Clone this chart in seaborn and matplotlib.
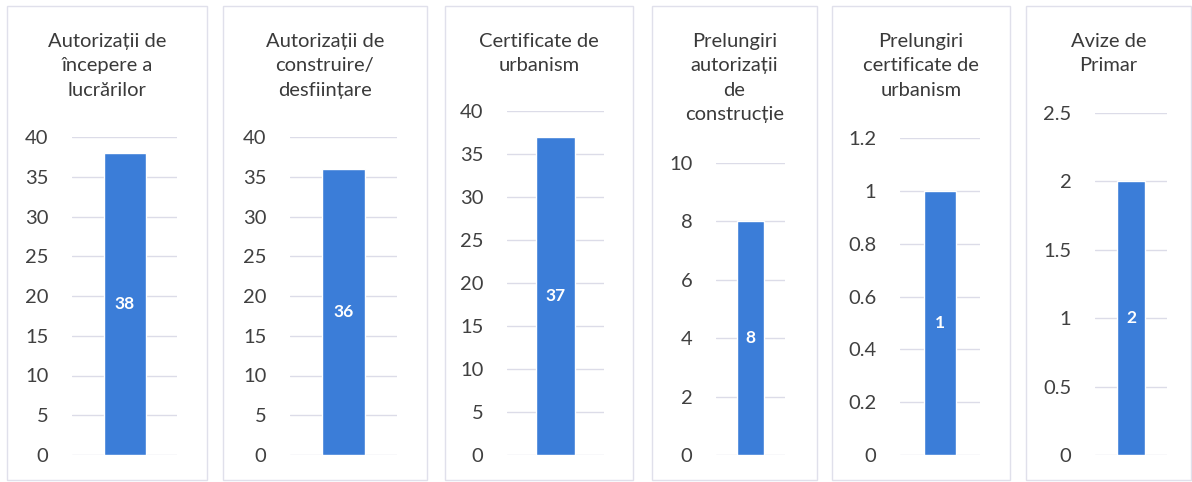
import matplotlib
matplotlib.use("Agg")
import matplotlib.pyplot as plt
from matplotlib.patches import Rectangle
from matplotlib.ticker import FuncFormatter
import numpy as np
import pandas as pd
import seaborn as sns

# data
titles = [
    "Autorizații de\nîncepere a\nlucrărilor",
    "Autorizații de\nconstruire/\ndesființare",
    "Certificate de\nurbanism",
    "Prelungiri\nautorizații\nde\nconstrucție",
    "Prelungiri\ncertificate de\nurbanism",
    "Avize de\nPrimar",
]
values = [38, 36, 37, 8, 1, 2]
y_max = [40, 40, 40, 10, 1.2, 2.5]
y_step = [5, 5, 5, 2, 0.2, 0.5]

# layout in pixels: panel box (left, right), axes (left, right, top)
W, H = 1192, 482
boxes = [(7, 207), (223, 427), (445, 633), (652, 817), (832, 1010), (1026, 1191)]
axes_px = [(72, 177, 137), (290, 397, 137), (507, 604, 111),
           (716, 785, 163), (900, 980, 138), (1095, 1167, 113)]
y_zero = 455

BAR = "#3b7dd8"
GRID = "#dcdce8"
TXT = "#3a3a3a"

sns.set_style("white")
plt.rcParams['font.family'] = ['Lato', 'DejaVu Sans']

fig = plt.figure(figsize=(W / 100, H / 100), dpi=100)

for i in range(len(values)):
    bl, br = boxes[i]
    fig.patches.append(Rectangle((bl / W, 1 - 480 / H), (br - bl) / W, (480 - 6) / H,
                                 transform=fig.transFigure, fill=False,
                                 edgecolor="#e0e0eb", lw=1.0))
    fig.text((bl + br) / 2 / W, 1 - 33 / H, titles[i], ha="center", va="top",
             fontsize=14.5, color=TXT, linespacing=1.52)

    x0, x1, yt = axes_px[i]
    ax = fig.add_axes([x0 / W, 1 - y_zero / H, (x1 - x0) / W, (y_zero - yt) / H])
    df = pd.DataFrame({"cat": [titles[i]], "val": [values[i]]})
    sns.barplot(data=df, x="cat", y="val", ax=ax, color=BAR, width=0.4,
                saturation=1, zorder=3)
    ax.set_xlim(-0.5, 0.5)
    ax.set_ylim(0, y_max[i])
    ax.set_yticks(np.arange(0, y_max[i] + y_step[i] / 2, y_step[i]))
    ax.yaxis.set_major_formatter(FuncFormatter(lambda v, p: "{:g}".format(round(v, 2))))
    ax.yaxis.grid(True, color=GRID, lw=1, zorder=0)
    ax.set_axisbelow(True)
    ax.tick_params(axis="y", length=0, pad=17, labelsize=14.5, labelcolor="#404040")
    ax.set_xticks([])
    ax.set_xlabel("")
    ax.set_ylabel("")
    for s in ax.spines.values():
        s.set_visible(False)
    ax.bar_label(ax.containers[0], label_type="center", color="white",
                 fontsize=12.5, fontweight="bold")

fig.savefig("out.png", dpi=100)
